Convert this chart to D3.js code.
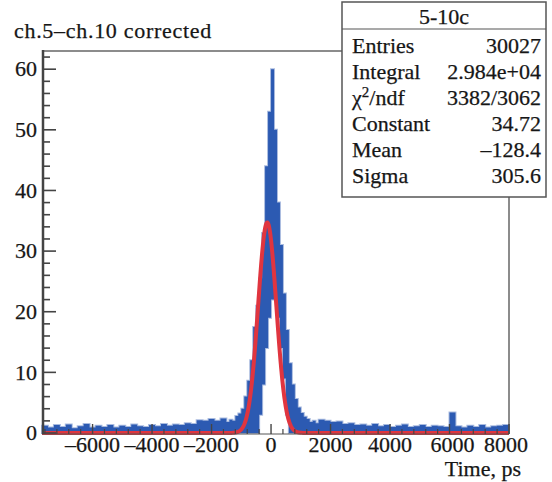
<!DOCTYPE html>
<html>
<head>
<meta charset="utf-8">
<script src="https://cdn.jsdelivr.net/npm/d3@7"></script>
<style>
  body { margin: 0; background: #fff; }
  svg { display: block; font-family: "Liberation Serif", "DejaVu Serif", serif; }
  svg text { fill: #161616; stroke: #161616; stroke-width: 0.25; }
</style>
</head>
<body>
<div id="chart"></div>
<script>
// histogram: per-column max (and min) of the bin contents
// left tail: bins of 200 ps starting at -7700
const leftTailStart = -7700, tailStep = 200;
const leftTailMax = [1.2, 0.9, 1.3, 1.0, 1.4, 0.8, 1.1, 1.5, 0.9, 1.2, 1.0, 1.3, 0.9, 1.2, 1.0, 1.4,
  1.1, 1.0, 1.3, 1.1, 1.5, 1.2, 1.4, 1.3, 1.6, 1.5, 2.1, 2.0, 2.3, 2.0, 2.4];

// core: bins of 100 ps starting at -1500
const coreStart = -1500, coreStep = 100;
const coreMax = [1.8, 2.2, 2.0, 2.8, 3.2, 4.0, 6.0, 8.6, 12.0, 17.5, 21.0, 25.5, 33.0, 44.0, 53.0, 60.0,
  50.0, 38.0, 31.0, 23.0, 17.0, 11.5, 8.0, 5.6, 4.2, 3.3, 2.7, 2.3, 1.8, 2.0, 1.6];
const coreMin = [0, 0, 0, 0, 0, 0, 0, 0, 0, 0, 0, 3, 8, 14, 19, 22,
  23, 19, 14, 9, 3, 0, 0, 0, 0, 0, 0, 0, 0, 0, 0];

// right tail: bins of 200 ps starting at 1600
const rightTailStart = 1600;
const rightTailMax = [2.2, 2.0, 1.8, 1.9, 1.5, 1.6, 1.3, 1.4, 1.2, 1.5, 1.1, 1.3, 1.0, 1.2, 1.4, 1.0,
  1.1, 1.3, 1.0, 1.2, 1.1, 1.0, 3.4, 1.1, 0.9, 1.2, 1.0, 1.3, 0.9, 1.1, 1.2, 1.3];

// gaussian fit parameters (from the stats box)
const fitConstant = 34.72, fitMean = -128.4, fitSigma = 305.6;

const xTicks = [-6000, -4000, -2000, 0, 2000, 4000, 6000, 8000];
const yTicks = [0, 10, 20, 30, 40, 50, 60];

const statLabels = ["Entries", "Integral", "chi2", "Constant", "Mean", "Sigma"];
const statValues = ["30027", "2.984e+04", "3382/3062", "34.72", "\u2013128.4", "305.6"];

const W = 552, H = 482, FS = 22;
const svg = d3.select("#chart").append("svg")
  .attr("width", W).attr("height", H);

const x = d3.scaleLinear().domain([-7700, 8000]).range([42, 509]);
const y = d3.scaleLinear().domain([0, 63]).range([433, 51]);

// build bins
const bins = [];
leftTailMax.forEach((v, i) => bins.push({t: leftTailStart + i * tailStep, lo: 0, hi: v}));
coreMax.forEach((v, i) => bins.push({t: coreStart + i * coreStep, lo: coreMin[i], hi: v}));
rightTailMax.forEach((v, i) => bins.push({t: rightTailStart + i * tailStep, lo: 0, hi: v}));
bins.push({t: 8000, lo: 0, hi: rightTailMax[rightTailMax.length - 1]});

const band = d3.area()
  .x(d => x(d.t))
  .y0(d => y(d.lo))
  .y1(d => y(d.hi))
  .curve(d3.curveStepAfter);

// light halo, then the dark blue histogram
svg.append("path")
  .attr("d", band(bins))
  .attr("fill", "#a9bbdf")
  .attr("stroke", "#a9bbdf")
  .attr("stroke-width", 2);
svg.append("path")
  .attr("d", band(bins))
  .attr("fill", "#2c5ab2");

// fit curve
const fitX = d3.range(-7700, 8001, 10);
const gaus = t => fitConstant * Math.exp(-0.5 * Math.pow((t - fitMean) / fitSigma, 2));
svg.append("path")
  .datum(fitX)
  .attr("d", d3.line().x(t => x(t)).y(t => y(gaus(t))))
  .attr("fill", "none")
  .attr("stroke", "#e0353f")
  .attr("stroke-width", 4)
  .attr("stroke-linejoin", "round");

// frame
const frame = svg.append("g");
frame.append("line").attr("x1", 42).attr("x2", 509).attr("y1", 51).attr("y2", 51)
  .attr("stroke", "#666").attr("stroke-width", 1.5);
frame.append("line").attr("x1", 509).attr("x2", 509).attr("y1", 51).attr("y2", 434)
  .attr("stroke", "#666").attr("stroke-width", 1.5);
frame.append("line").attr("x1", 42).attr("x2", 509).attr("y1", 434).attr("y2", 434)
  .attr("stroke", "#555").attr("stroke-width", 1);
frame.append("line").attr("x1", 43).attr("x2", 43).attr("y1", 50).attr("y2", 434)
  .attr("stroke", "#444").attr("stroke-width", 2.5);

// y ticks (major every 10, minor every 2)
const yMinor = d3.range(0, 63, 2).filter(v => v % 10 !== 0);
frame.selectAll(".ymin").data(yMinor).enter().append("line")
  .attr("x1", 43).attr("x2", 50)
  .attr("y1", d => y(d)).attr("y2", d => y(d))
  .attr("stroke", "#444").attr("stroke-width", 1.6);
frame.selectAll(".ymaj").data(yTicks).enter().append("line")
  .attr("x1", 43).attr("x2", 56)
  .attr("y1", d => y(d)).attr("y2", d => y(d))
  .attr("stroke", "#444").attr("stroke-width", 1.6);
svg.selectAll(".ylab").data(yTicks).enter().append("text")
  .attr("x", 37).attr("y", d => y(d)).attr("dy", "0.33em")
  .attr("text-anchor", "end")
  .attr("font-size", FS)
  .text(d => d);

// x ticks (major every 2000, minor every 400)
const xMinor = d3.range(-7600, 8000, 400).filter(v => v % 2000 !== 0);
frame.selectAll(".xmin").data(xMinor).enter().append("line")
  .attr("x1", d => x(d)).attr("x2", d => x(d))
  .attr("y1", 434).attr("y2", 429)
  .attr("stroke", "#444").attr("stroke-width", 1.2);
frame.selectAll(".xmaj").data(xTicks).enter().append("line")
  .attr("x1", d => x(d)).attr("x2", d => x(d))
  .attr("y1", 434).attr("y2", 424)
  .attr("stroke", "#444").attr("stroke-width", 1.4);
svg.selectAll(".xlab").data(xTicks).enter().append("text")
  .attr("x", d => x(d) + (d === 8000 ? -3 : d === 6000 ? 3 : 0)).attr("y", 452)
  .attr("text-anchor", "middle")
  .attr("font-size", FS)
  .text(d => String(d).replace("-", "\u2013"));

svg.append("text")
  .attr("x", 521).attr("y", 476)
  .attr("text-anchor", "end")
  .attr("font-size", FS)
  .text("Time, ps");

// title
svg.append("text")
  .attr("x", 14).attr("y", 38)
  .attr("font-size", FS).attr("letter-spacing", 0.7)
  .text("ch.5\u2013ch.10 corrected");

// stats box
const box = svg.append("g");
box.append("rect")
  .attr("x", 342).attr("y", 2).attr("width", 204).attr("height", 195)
  .attr("fill", "#fff").attr("stroke", "#555").attr("stroke-width", 1.5);
box.append("line").attr("x1", 342).attr("x2", 546).attr("y1", 29).attr("y2", 29)
  .attr("stroke", "#555").attr("stroke-width", 1.2);
box.append("text")
  .attr("x", 444).attr("y", 24).attr("text-anchor", "middle")
  .attr("font-size", FS)
  .text("5-10c");

const rowY = d3.scaleLinear().domain([0, 5]).range([53, 183]);
statLabels.forEach((lab, i) => {
  const t = box.append("text")
    .attr("x", 352).attr("y", rowY(i))
    .attr("font-size", FS);
  if (lab === "chi2") {
    t.append("tspan").text("\u03c7");
    t.append("tspan").attr("font-size", 15).attr("dy", -8).text("2");
    t.append("tspan").attr("dy", 8).text("/ndf");
  } else {
    t.text(lab);
  }
  box.append("text")
    .attr("x", 541).attr("y", rowY(i))
    .attr("text-anchor", "end")
    .attr("font-size", FS)
    .text(statValues[i]);
});
</script>
</body>
</html>
